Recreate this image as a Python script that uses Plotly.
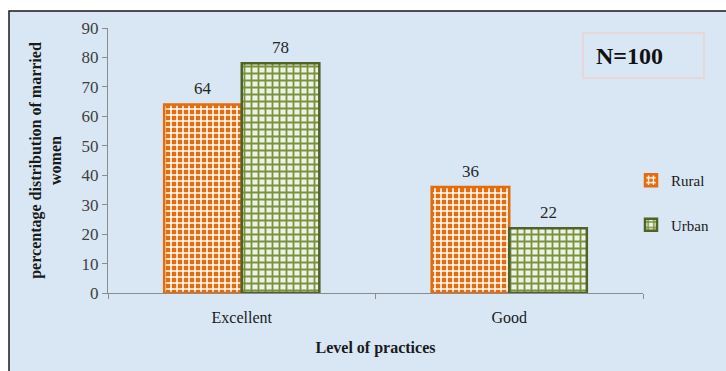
import plotly.graph_objects as go

categories = ["Excellent", "Good"]
rural = [64, 36]
urban = [78, 22]
y_ticks = [0, 10, 20, 30, 40, 50, 60, 70, 80, 90]

W, H = 726, 371
ML, MR, MT, MB = 108, 83, 28, 78
PW, PH = W - ML - MR, H - MT - MB

def px_x(x):
    return (x - ML) / PW

def px_y(y):
    return (H - MB - y) / PH

SERIF = "Liberation Serif, Times New Roman, serif"
BARGAP = 0.42

fig = go.Figure()
fig.add_trace(go.Bar(
    name="Rural", x=categories, y=rural,
    marker=dict(color="white",
                line=dict(color="#e46c0a", width=2.5),
                pattern=dict(shape="+", fgcolor="white", bgcolor="#e46c0a",
                             size=6, solidity=0.45, fillmode="replace")),
    legendgroup="a",
))
fig.add_trace(go.Bar(
    name="Urban", x=categories, y=urban,
    marker=dict(color="white",
                line=dict(color="#4f6228", width=2.5),
                pattern=dict(shape="+", fgcolor="#77933c", bgcolor="#eef2e4",
                             size=7, solidity=0.45, fillmode="replace")),
    legendgroup="b",
))

# value labels above bars
half = (1 - BARGAP) / 4
for series, off in ((rural, -half), (urban, half)):
    for i, v in enumerate(series):
        fig.add_annotation(x=i + off, y=v, xref="x", yref="y", text=str(v),
                           showarrow=False, yanchor="middle", yshift=16,
                           font=dict(family=SERIF, size=17, color="#262626"))

# chart background with black frame
fig.add_shape(type="rect", xref="paper", yref="paper",
              x0=px_x(9), x1=px_x(745), y0=px_y(385), y1=px_y(11),
              fillcolor="#d9e7f5", line=dict(color="#1a1a1a", width=1.5),
              layer="below")

# N=100 box
fig.add_shape(type="rect", xref="paper", yref="paper",
              x0=px_x(583), x1=px_x(704), y0=px_y(78), y1=px_y(33),
              fillcolor="rgba(0,0,0,0)", line=dict(color="#ecd2d2", width=1.5))
fig.add_annotation(x=px_x(629), y=px_y(56), xref="paper", yref="paper",
                   text="<b>N=100</b>", showarrow=False, xanchor="center",
                   yanchor="middle",
                   font=dict(family=SERIF, size=24, color="#111111"))

fig.update_layout(
    width=W, height=H,
    margin=dict(l=ML, r=MR, t=MT, b=MB, autoexpand=False),
    paper_bgcolor="white", plot_bgcolor="rgba(0,0,0,0)",
    barmode="group", bargap=BARGAP, bargroupgap=0,
    font=dict(family=SERIF, color="#262626"),
    showlegend=True,
    legend=dict(x=px_x(631), y=px_y(164), xanchor="left", yanchor="top",
                bgcolor="rgba(0,0,0,0)", tracegroupgap=22,
                traceorder="grouped",
                font=dict(family=SERIF, size=15, color="#1a1a1a"),
                itemwidth=30),
    xaxis=dict(
        showline=True, linecolor="#8c8c8c", linewidth=1,
        ticks="outside", tickson="boundaries", ticklen=5, tickcolor="#8c8c8c",
        ticklabelstandoff=10,
        tickfont=dict(family=SERIF, size=16, color="#1a1a1a"),
        title=dict(text="<b>Level of practices</b>", standoff=16,
                   font=dict(family=SERIF, size=16, color="#1a1a1a")),
        showgrid=False,
    ),
    yaxis=dict(
        range=[0, 90], tickvals=y_ticks,
        showline=True, linecolor="#8c8c8c", linewidth=1,
        ticks="outside", ticklen=5, tickcolor="#8c8c8c",
        tickfont=dict(family=SERIF, size=17, color="#404040"),
        title=dict(text="<b>percentage distribution of married<br>women</b>",
                   standoff=15,
                   font=dict(family=SERIF, size=16, color="#1a1a1a")),
        showgrid=False, zeroline=False,
    ),
)

fig.write_html("out.html")
